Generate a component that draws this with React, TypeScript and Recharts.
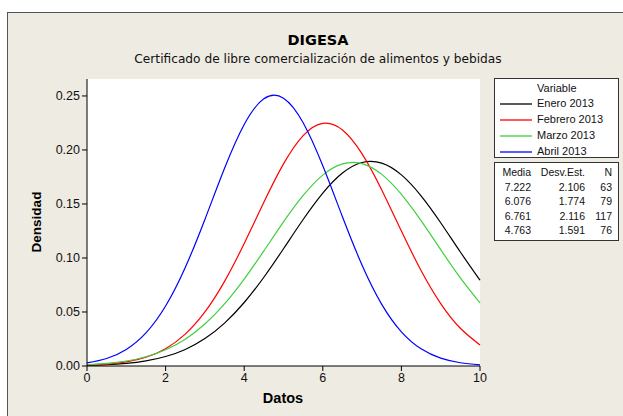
import { LineChart, Line, XAxis, YAxis, CartesianGrid } from "recharts";

// x grid of the density curves
const xs = [0, 0.5, 1, 1.5, 2, 2.5, 3, 3.5, 4, 4.5, 5, 5.5, 6, 6.5, 7, 7.5, 8, 8.5, 9, 9.5, 10];

const enero = [
  0.00053, 0.00116, 0.00241, 0.00473, 0.00876, 0.01534, 0.02539, 0.03974, 0.05878, 0.08216, 0.10857,
  0.13561, 0.16008, 0.17862, 0.18838, 0.18779, 0.17694, 0.15757, 0.13265, 0.10553, 0.07936,
];
const febrero = [
  0.00064, 0.00161, 0.00375, 0.00808, 0.01606, 0.02949, 0.05002, 0.07836, 0.1134, 0.15156, 0.1871,
  0.21334, 0.22468, 0.21856, 0.19636, 0.16296, 0.12489, 0.08842, 0.05781, 0.03492, 0.01948,
];
const marzo = [
  0.00115, 0.00237, 0.00463, 0.00857, 0.015, 0.02482, 0.03886, 0.0575, 0.08048, 0.10653, 0.13336,
  0.15786, 0.17673, 0.18711, 0.18734, 0.17738, 0.15884, 0.13452, 0.10772, 0.08158, 0.05843,
];
const abril = [
  0.00284, 0.00692, 0.0153, 0.03061, 0.05551, 0.09118, 0.13571, 0.18299, 0.22351, 0.24735, 0.24798,
  0.22524, 0.18536, 0.13817, 0.09331, 0.0571, 0.03164, 0.0159, 0.00723, 0.00298, 0.00111,
];

const xTicks = [0, 2, 4, 6, 8, 10];
const yTicks = [0, 0.05, 0.1, 0.15, 0.2, 0.25];

const series = [
  { key: "enero", name: "Enero 2013", color: "#000000", values: enero },
  { key: "febrero", name: "Febrero 2013", color: "#ff0000", values: febrero },
  { key: "marzo", name: "Marzo 2013", color: "#3fcf3f", values: marzo },
  { key: "abril", name: "Abril 2013", color: "#0000ff", values: abril },
];

// summary table
const medias = ["7.222", "6.076", "6.761", "4.763"];
const desv = ["2.106", "1.774", "2.116", "1.591"];
const ns = ["63", "79", "117", "76"];

const data = xs.map((x, i) => {
  const row: Record<string, number> = { x };
  series.forEach((s) => (row[s.key] = s.values[i]));
  return row;
});

const font = "'Liberation Sans', Arial, sans-serif";
const wideFont = "'DejaVu Sans', Verdana, sans-serif";
const bg = "#eeebe2";

const YLabel = () => (
  <text
    x={36}
    y={222}
    transform="rotate(-90 36 222)"
    textAnchor="middle"
    dominantBaseline="central"
    fontWeight="bold"
    fontSize={13.5}
    fill="#000"
    fontFamily={font}
  >
    Densidad
  </text>
);

const XLabel = () => (
  <text
    x={283}
    y={398}
    textAnchor="middle"
    dominantBaseline="central"
    fontWeight="bold"
    fontSize={14.5}
    fill="#000"
    fontFamily={font}
  >
    Datos
  </text>
);

export default function App() {
  return (
    <div
      style={{
        position: "fixed",
        left: 0,
        top: 0,
        width: 623,
        height: 416,
        overflow: "hidden",
        background: "#fff",
        fontFamily: font,
      }}
    >
      <div
        style={{
          position: "absolute",
          left: 7,
          top: 12,
          width: 700,
          height: 500,
          background: bg,
          borderLeft: "1px solid #555",
          borderTop: "1px solid #555",
        }}
      />
      <div
        style={{
          position: "absolute",
          left: 13,
          width: 610,
          top: 32,
          textAlign: "center",
          fontWeight: "bold",
          fontSize: 14.5,
          fontFamily: wideFont,
          color: "#000",
        }}
      >
        DIGESA
      </div>
      <div
        style={{
          position: "absolute",
          left: 13,
          width: 610,
          top: 52,
          textAlign: "center",
          fontSize: 12.2,
          fontFamily: wideFont,
          color: "#111",
        }}
      >
        Certificado de libre comercialización de alimentos y bebidas
      </div>

      <LineChart
        width={623}
        height={416}
        data={data}
        margin={{ top: 79, right: 143, left: 47, bottom: 20 }}
        style={{ position: "absolute", left: 0, top: 0 }}
      >
        <CartesianGrid horizontal={false} vertical={false} fill="#ffffff" />
        <XAxis
          dataKey="x"
          type="number"
          domain={[0, 10]}
          ticks={xTicks}
          height={30}
          tickSize={5}
          axisLine={{ stroke: "#000" }}
          tickLine={{ stroke: "#000" }}
          tick={{ fill: "#111", fontSize: 12.5, fontFamily: font }}
          label={<XLabel />}
        />
        <XAxis
          xAxisId="top"
          dataKey="x"
          type="number"
          domain={[0, 10]}
          orientation="top"
          height={0}
          tick={false}
          tickLine={false}
          axisLine={{ stroke: "#333" }}
        />
        <YAxis
          type="number"
          domain={[0, 0.2657]}
          ticks={yTicks}
          width={40}
          tickSize={5}
          allowDataOverflow
          tickFormatter={(v: number) => v.toFixed(2)}
          axisLine={{ stroke: "#000" }}
          tickLine={{ stroke: "#000" }}
          tick={{ fill: "#111", fontSize: 12.5, fontFamily: font }}
          label={<YLabel />}
        />
        <YAxis
          yAxisId="right"
          orientation="right"
          width={0}
          tick={false}
          tickLine={false}
          axisLine={{ stroke: "#000" }}
        />
        {series.map((s) => (
          <Line
            key={s.key}
            dataKey={s.key}
            name={s.name}
            type="natural"
            stroke={s.color}
            strokeWidth={1.2}
            dot={false}
            activeDot={false}
            isAnimationActive={false}
          />
        ))}
      </LineChart>

      {/* legend box */}
      <div
        style={{
          position: "absolute",
          left: 494,
          top: 78,
          width: 123,
          height: 78,
          background: "#fff",
          border: "1px solid #333",
          fontSize: 11,
          color: "#111",
        }}
      >
        <div style={{ position: "absolute", left: 42, top: 3 }}>Variable</div>
        {series.map((s, i) => (
          <div key={s.key} style={{ position: "absolute", left: 0, top: 18 + i * 16, height: 14, width: 123 }}>
            <svg width={34} height={14} style={{ position: "absolute", left: 4, top: 0 }}>
              <line x1={1} x2={33} y1={7} y2={7} stroke={s.color} strokeWidth={1.3} />
            </svg>
            <div style={{ position: "absolute", left: 42, top: 0 }}>{s.name}</div>
          </div>
        ))}
      </div>

      {/* statistics table */}
      <div
        style={{
          position: "absolute",
          left: 494,
          top: 162,
          width: 123,
          height: 77,
          background: "#fff",
          border: "1px solid #333",
          fontSize: 10.5,
          color: "#111",
        }}
      >
        {[["Media", "Desv.Est.", "N"], ...medias.map((m, i) => [m, desv[i], ns[i]])].map((r, i) => (
          <div key={i} style={{ position: "absolute", left: 0, top: 3 + i * 14.5, width: 123, height: 14 }}>
            <div style={{ position: "absolute", right: 87, top: 0 }}>{r[0]}</div>
            <div style={{ position: "absolute", right: 33, top: 0 }}>{r[1]}</div>
            <div style={{ position: "absolute", right: 6, top: 0 }}>{r[2]}</div>
          </div>
        ))}
      </div>
    </div>
  );
}
